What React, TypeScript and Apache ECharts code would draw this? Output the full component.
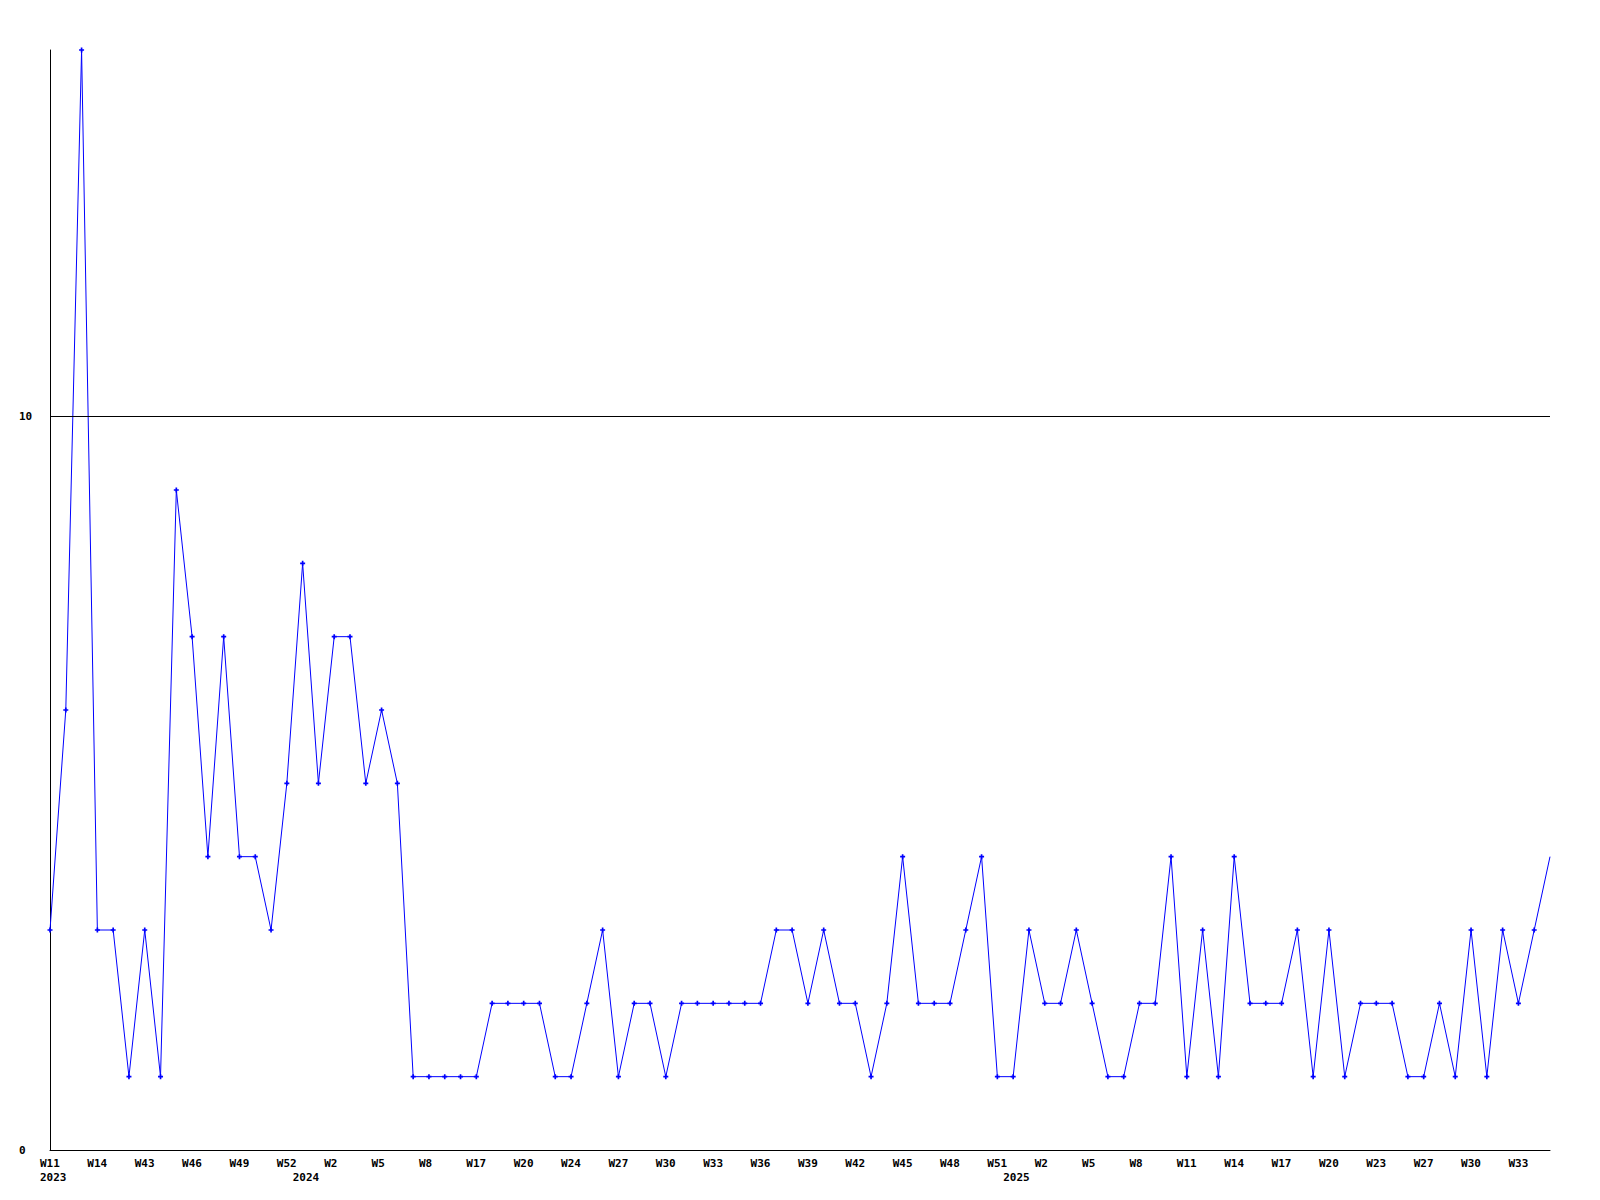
import React, { useEffect, useRef } from 'react';
import * as echarts from 'echarts';

// Weekly values, one per point (evenly spaced)
const values: number[] = [
  3, 6, 15, 3, 3, 1, 3, 1, 9, 7, 4, 7, 4, 4, 3, 5, 8, 5, 7, 7, 5, 6, 5,
  1, 1, 1, 1, 1, 2, 2, 2, 2, 1, 1, 2, 3, 1, 2, 2, 1, 2, 2, 2, 2, 2, 2,
  3, 3, 2, 3, 2, 2, 1, 2, 4, 2, 2, 2, 3, 4, 1, 1, 3, 2, 2, 3, 2, 1, 1, 2, 2, 4,
  1, 3, 1, 4, 2, 2, 2, 3, 1, 3, 1, 2, 2, 2, 1, 1, 2, 1, 3, 1, 3, 2, 3, 4,
];

// Week tick labels, one every third point
const weekTicks: string[] = [
  'W11', 'W14', 'W43', 'W46', 'W49', 'W52', 'W2', 'W5', 'W8', 'W17', 'W20',
  'W24', 'W27', 'W30', 'W33', 'W36', 'W39', 'W42', 'W45', 'W48', 'W51', 'W2',
  'W5', 'W8', 'W11', 'W14', 'W17', 'W20', 'W23', 'W27', 'W30', 'W33',
];
const tickStep = 3;

// Year labels at the point where each year starts
const yearStartIndex: number[] = [0, 16, 61];
const yearNames: string[] = ['2023', '2024', '2025'];

const yMin = 0;
const yMax = 15;
const yInterval = 10;
const referenceLine = 10;

const plusSymbol = 'path://M2,0H4V2H6V4H4V6H2V4H0V2H2Z';

export default function App() {
  const ref = useRef<HTMLDivElement>(null);

  useEffect(() => {
    if (!ref.current) return;
    const chart = echarts.init(ref.current, null, { renderer: 'svg' });
    const categories = values.map((_, i) => String(i));
    const font = {
      fontFamily: 'DejaVu Sans Mono',
      fontSize: 11,
      fontWeight: 'bold' as const,
      color: '#000',
    };

    const option: any = {
      animation: false,
      backgroundColor: '#ffffff',
      textStyle: { fontFamily: 'DejaVu Sans Mono' },
      grid: { left: 50, right: 50, top: 50, bottom: 50, containLabel: false },
      xAxis: {
        type: 'category',
        data: categories,
        boundaryGap: false,
        axisLine: { show: true, lineStyle: { color: '#000', width: 1 } },
        axisTick: { show: false },
        splitLine: { show: false },
        axisLabel: {
          interval: 0,
          margin: 6,
          hideOverlap: false,
          formatter: (_v: string, idx: number) => {
            const week = idx % tickStep === 0 ? weekTicks[idx / tickStep] : undefined;
            const yi = yearStartIndex.indexOf(idx);
            const year = yi >= 0 ? yearNames[yi] : undefined;
            if (!week && !year) return '';
            let s = `{w|${week ?? ' '}}`;
            if (year) s += `\n{w|${year}}`;
            return s;
          },
          rich: {
            w: { ...font, width: 20, align: 'left', lineHeight: 14 },
          },
        },
      },
      yAxis: {
        type: 'value',
        min: yMin,
        max: yMax,
        interval: yInterval,
        axisLine: { show: true, lineStyle: { color: '#000', width: 1 } },
        axisTick: { show: false },
        splitLine: { show: false },
        axisLabel: {
          ...font,
          align: 'left',
          margin: 31,
          formatter: (v: number) => (v % yInterval === 0 ? String(v) : ''),
        },
      },
      series: [
        {
          type: 'line',
          data: values.map((v, i) =>
            i === values.length - 1 ? { value: v, symbol: 'none' } : v
          ),
          symbol: plusSymbol,
          symbolSize: 5,
          showAllSymbol: true,
          itemStyle: { color: '#0000ff' },
          lineStyle: { color: '#0000ff', width: 1 },
          markLine: {
            silent: true,
            symbol: 'none',
            label: { show: false },
            lineStyle: { color: '#000', type: 'solid', width: 1 },
            data: [{ yAxis: referenceLine }],
          },
        },
      ],
    };

    chart.setOption(option);
    return () => chart.dispose();
  }, []);

  return (
    <div
      ref={ref}
      style={{ position: 'absolute', left: 0, top: 0, width: 1600, height: 1200, background: '#fff' }}
    />
  );
}
